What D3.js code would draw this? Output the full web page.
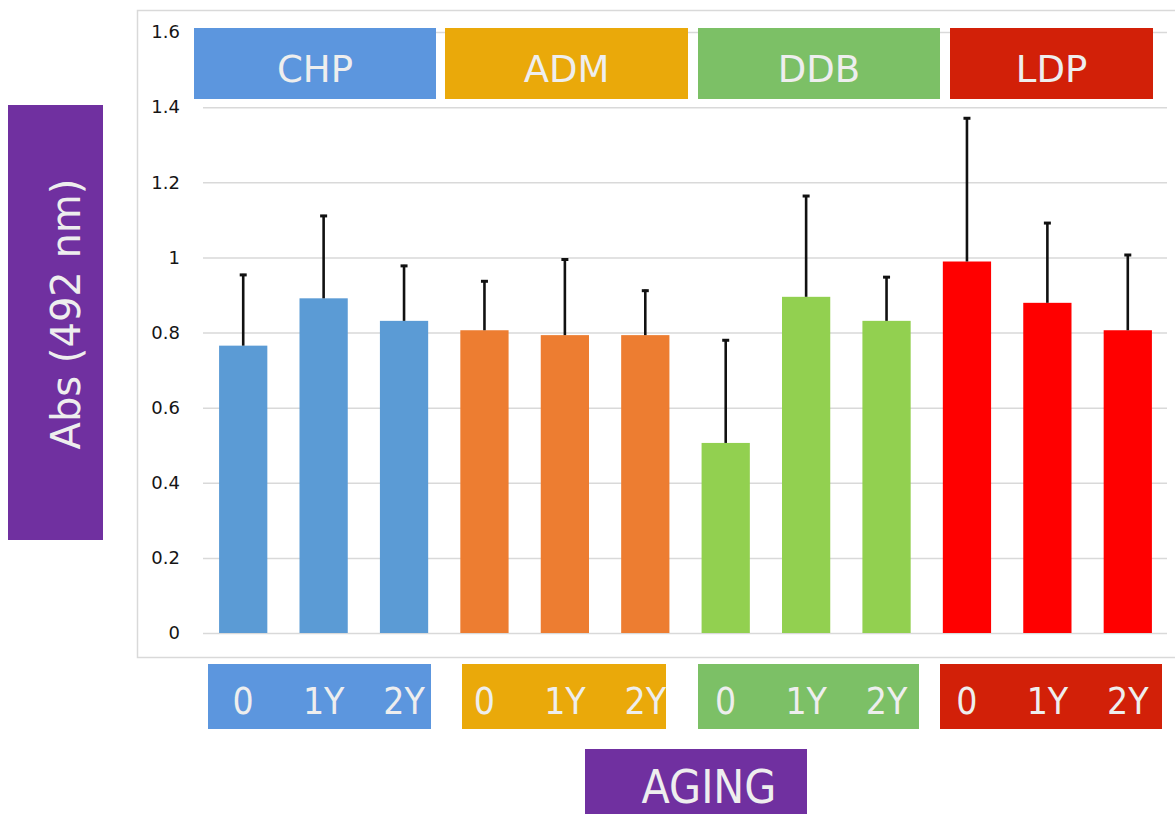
<!DOCTYPE html>
<html>
<head>
<meta charset="utf-8">
<script src="https://cdn.jsdelivr.net/npm/d3@7"></script>
<style>
  html, body { margin: 0; padding: 0; background: #ffffff; }
  svg { display: block; }
</style>
</head>
<body>
<div id="chart"></div>
<script>
// ---------------- DATA ----------------
const groups = ["CHP", "ADM", "DDB", "LDP"];
const agingLabels = ["0", "1Y", "2Y"];
const chpMeans = [0.765, 0.891, 0.831];
const admMeans = [0.806, 0.793, 0.793];
const ddbMeans = [0.506, 0.895, 0.831];
const ldpMeans = [0.989, 0.879, 0.806];
const chpErr = [0.191, 0.222, 0.149];
const admErr = [0.133, 0.204, 0.121];
const ddbErr = [0.276, 0.271, 0.119];
const ldpErr = [0.384, 0.215, 0.203];
const yTicks = [0, 0.2, 0.4, 0.6, 0.8, 1.0, 1.2, 1.4, 1.6];
const yTickLabels = ["0", "0.2", "0.4", "0.6", "0.8", "1", "1.2", "1.4", "1.6"];
const yAxisTitle = "Abs (492 nm)";
const xAxisTitle = "AGING";

// ---------------- STYLE / LAYOUT ----------------
const W = 1175, H = 814;
const barColors = {CHP: "#5B9BD5", ADM: "#ED7D31", DDB: "#92D050", LDP: "#FF0000"};
const tagColors = {CHP: "#5C96DE", ADM: "#EAA90A", DDB: "#7CC066", LDP: "#D22008"};
const purple = "#7030A0";
const labelFill = "#eeeeee";
const headerBoxes = {CHP: [194, 436], ADM: [445, 688], DDB: [698, 940], LDP: [950, 1153]};
const headerY = [28, 99];
const footerBoxes = {CHP: [208, 431], ADM: [462, 666], DDB: [698, 919], LDP: [940, 1162]};
const footerY = [664, 729];

const meansBy = {CHP: chpMeans, ADM: admMeans, DDB: ddbMeans, LDP: ldpMeans};
const errBy = {CHP: chpErr, ADM: admErr, DDB: ddbErr, LDP: ldpErr};
const rows = [];
groups.forEach(g => agingLabels.forEach((a, i) => {
  rows.push({group: g, aging: a, key: g + "-" + a, mean: meansBy[g][i], err: errBy[g][i]});
}));

const svg = d3.select("#chart").append("svg")
  .attr("width", W).attr("height", H)
  .style("font-family", "'DejaVu Sans', sans-serif");

const x = d3.scaleBand()
  .domain(rows.map(d => d.key))
  .range([203, 1168])
  .paddingInner(0.4)
  .paddingOuter(0.2);

const y = d3.scaleLinear().domain([0, 1.6]).range([633, 32]);

// Frame
svg.append("rect")
  .attr("x", 137.5).attr("y", 10.5)
  .attr("width", 1060).attr("height", 647)
  .attr("fill", "none").attr("stroke", "#d9d9d9").attr("stroke-width", 1.5);

// Gridlines + tick labels
const yAxis = d3.axisLeft(y)
  .tickValues(yTicks)
  .tickSize(-(1167 - 203))
  .tickPadding(23)
  .tickFormat((d, i) => yTickLabels[i]);
const gy = svg.append("g").attr("transform", "translate(203,0)").call(yAxis);
gy.select(".domain").remove();
gy.selectAll(".tick line").attr("stroke", "#d9d9d9").attr("stroke-width", 1.5);
gy.selectAll(".tick text")
  .attr("fill", "#151515")
  .style("font-size", "18px")
  .style("font-family", "'DejaVu Sans', sans-serif");

// Bars
svg.append("g").selectAll("rect.bar").data(rows).join("rect")
  .attr("class", "bar")
  .attr("x", d => x(d.key))
  .attr("width", x.bandwidth())
  .attr("y", d => y(d.mean))
  .attr("height", d => y(0) - y(d.mean))
  .attr("fill", d => barColors[d.group]);

// Error bars (upper only)
const eb = svg.append("g").selectAll("g.err").data(rows).join("g").attr("class", "err");
eb.append("line")
  .attr("x1", d => x(d.key) + x.bandwidth() / 2)
  .attr("x2", d => x(d.key) + x.bandwidth() / 2)
  .attr("y1", d => y(d.mean))
  .attr("y2", d => y(d.mean + d.err))
  .attr("stroke", "#111").attr("stroke-width", 2.6);
eb.append("line")
  .attr("x1", d => x(d.key) + x.bandwidth() / 2 - 3.5)
  .attr("x2", d => x(d.key) + x.bandwidth() / 2 + 3.5)
  .attr("y1", d => y(d.mean + d.err) + 1)
  .attr("y2", d => y(d.mean + d.err) + 1)
  .attr("stroke", "#111").attr("stroke-width", 3);

// Header tags
groups.forEach(g => {
  const [x0, x1] = headerBoxes[g];
  svg.append("rect").attr("x", x0).attr("y", headerY[0])
    .attr("width", x1 - x0).attr("height", headerY[1] - headerY[0])
    .attr("fill", tagColors[g]);
  svg.append("text").attr("x", (x0 + x1) / 2).attr("y", 82)
    .attr("text-anchor", "middle").attr("fill", labelFill)
    .style("font-size", "37px").text(g);
});

// Footer tags with aging labels
groups.forEach(g => {
  const [x0, x1] = footerBoxes[g];
  svg.append("rect").attr("x", x0).attr("y", footerY[0])
    .attr("width", x1 - x0).attr("height", footerY[1] - footerY[0])
    .attr("fill", tagColors[g]);
});
svg.append("g").selectAll("text.age").data(rows).join("text")
  .attr("class", "age")
  .attr("x", d => x(d.key) + x.bandwidth() / 2)
  .attr("y", 714)
  .attr("text-anchor", "middle")
  .attr("fill", labelFill)
  .style("font-family", "'DejaVu Sans Condensed', 'DejaVu Sans', sans-serif")
  .style("font-size", "37px")
  .text(d => d.aging);

// Y axis title box
svg.append("rect").attr("x", 8).attr("y", 105).attr("width", 95).attr("height", 435)
  .attr("fill", purple);
svg.append("text")
  .attr("transform", "translate(80,314) rotate(-90)")
  .attr("text-anchor", "middle")
  .attr("fill", labelFill)
  .style("font-size", "40px")
  .text(yAxisTitle);

// X axis title box
svg.append("rect").attr("x", 585).attr("y", 749).attr("width", 222).attr("height", 70)
  .attr("fill", purple);
svg.append("text")
  .attr("x", 709).attr("y", 803)
  .attr("text-anchor", "middle")
  .attr("fill", labelFill)
  .style("font-family", "'DejaVu Sans Condensed', 'DejaVu Sans', sans-serif")
  .style("font-size", "46px")
  .text(xAxisTitle);
</script>
</body>
</html>
